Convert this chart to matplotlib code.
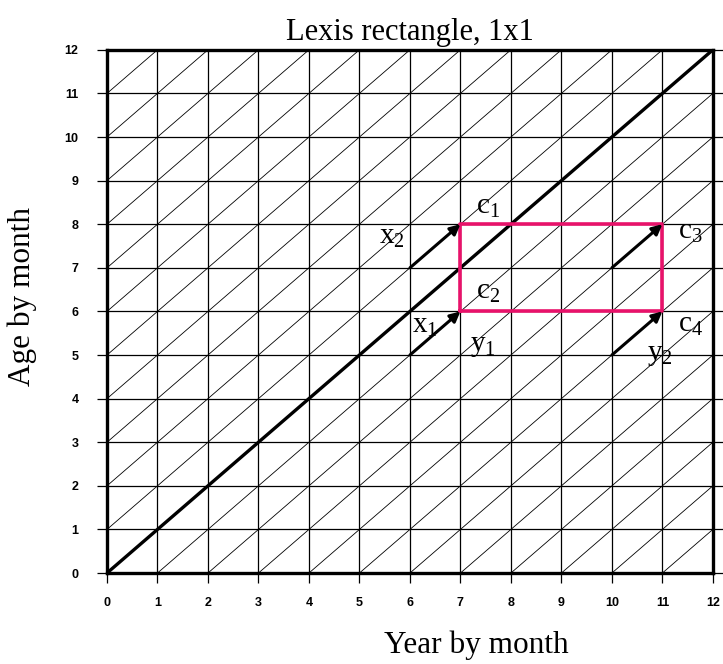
import matplotlib
matplotlib.use('Agg')
import matplotlib.pyplot as plt
import numpy as np

plt.rcParams['mathtext.fontset'] = 'custom'
plt.rcParams['mathtext.rm'] = 'Liberation Serif'
plt.rcParams['mathtext.it'] = 'Liberation Serif'

# data
ticks = list(range(0, 13))
diag_offsets = list(range(-12, 13))
rect_x = [7, 11, 11, 7, 7]
rect_y = [6, 6, 8, 8, 6]
arrow_start = [(6, 5), (6, 7), (10, 7), (10, 5)]
arrow_end = [(7, 6), (7, 8), (11, 8), (11, 6)]
label_text = ['c$_1$', 'x$_2$', 'c$_3$', 'c$_2$', 'x$_1$', 'y$_1$', 'c$_4$', 'y$_2$']
label_x = [7.55, 5.65, 11.55, 7.55, 6.3, 7.45, 11.55, 10.95]
label_y = [8.4, 7.7, 7.82, 6.45, 5.67, 5.2, 5.69, 5.0]

serif = 'Liberation Serif'

fig = plt.figure(figsize=(7.23, 6.64), dpi=100)
ax = fig.add_axes([0.148, 0.137, 0.838, 0.788])

# grid
for t in ticks:
    ax.plot([0, 12.2], [t, t], color='black', lw=0.9, clip_on=False, zorder=1)
    ax.plot([t, t], [0, 12], color='black', lw=0.9, zorder=1)

# cell diagonals
for k in diag_offsets:
    x0 = max(0, -k)
    x1 = min(12, 12 - k)
    lw = 2.4 if k == 0 else 0.6
    ax.plot([x0, x1], [x0 + k, x1 + k], color='black', lw=lw, zorder=2)

# Lexis rectangle
ax.plot(rect_x, rect_y, color='#e8126a', lw=2.6, zorder=3)

for s, e in zip(arrow_start, arrow_end):
    ax.annotate('', xy=e, xytext=s,
                arrowprops=dict(arrowstyle='-|>', color='black', lw=2.2,
                                mutation_scale=15, shrinkA=0, shrinkB=0),
                zorder=4)

for txt, x, y in zip(label_text, label_x, label_y):
    ax.text(x, y, txt, fontsize=21, family=serif, ha='center', va='center', zorder=5)

ax.set_xlim(0, 12)
ax.set_ylim(0, 12)
ax.set_xticks(ticks)
ax.set_yticks(ticks)
ax.tick_params(direction='out', length=7.5, width=0.9, labelsize=9)
ax.tick_params(axis='x', pad=10)
ax.tick_params(axis='y', pad=13)
for lab in ax.get_xticklabels() + ax.get_yticklabels():
    lab.set_fontfamily('Liberation Sans')
    lab.set_fontweight('bold')
for sp in ax.spines.values():
    sp.set_linewidth(2.4)
    sp.set_zorder(6)

ax.set_title('Lexis rectangle, 1x1', fontsize=22, family=serif, pad=7)
ax.set_xlabel('Year by month', fontsize=22.5, family=serif, va='center')
ax.set_ylabel('Age by month', fontsize=22.5, family=serif, va='center')
ax.xaxis.set_label_coords(0.61, -0.138)
ax.yaxis.set_label_coords(-0.14, 0.528)

fig.savefig('out.png', dpi=100)
